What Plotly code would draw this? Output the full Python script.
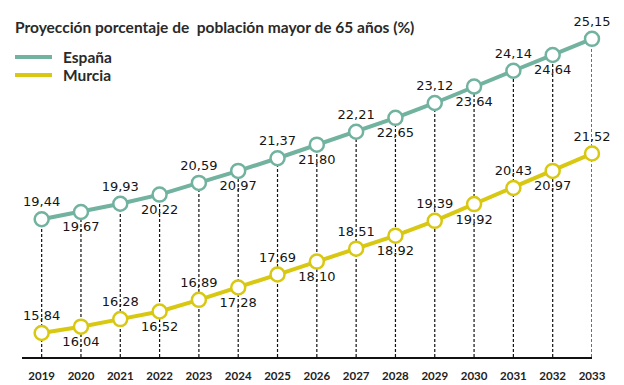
import plotly.graph_objects as go

years = list(range(2019, 2034))
espana = [19.44, 19.67, 19.93, 20.22, 20.59, 20.97, 21.37, 21.80, 22.21, 22.65, 23.12, 23.64, 24.14, 24.64, 25.15]
murcia = [15.84, 16.04, 16.28, 16.52, 16.89, 17.28, 17.69, 18.10, 18.51, 18.92, 19.39, 19.92, 20.43, 20.97, 21.52]
tick_labels = [str(y) for y in years]
series_names = ["España", "Murcia"]

C_ESP = "#72b3a0"
C_MUR = "#d8c812"
Y_MIN, Y_MAX = 15.08, 25.43

def fmt(v):
    return f"{v:.2f}".replace(".", ",")

def positions(n):
    return ["top center" if i % 2 == 0 else "bottom center" for i in range(n)]

fig = go.Figure()

# dashed drop lines from España points to the axis
dx, dy = [], []
for x, v in zip(years, espana):
    dx += [x, x, None]
    dy += [Y_MIN, v, None]
fig.add_trace(go.Scatter(x=dx, y=dy, mode="lines", showlegend=False, hoverinfo="skip",
                         line=dict(color="#111", width=1.2, dash="3px,2px")))

for vals, col in [(espana, C_ESP), (murcia, C_MUR)]:
    fig.add_trace(go.Scatter(
        x=years, y=vals, mode="lines+markers+text", showlegend=False,
        text=[fmt(v) for v in vals], textposition=positions(len(vals)),
        textfont=dict(family="DejaVu Sans, sans-serif", size=13, color="#151515"),
        line=dict(color=col, width=4),
        marker=dict(size=14, color="white", line=dict(color=col, width=2.5)),
        cliponaxis=False))

# manual legend
leg_y = [0.9174, 0.8624]
for name, col, yy in zip(series_names, [C_ESP, C_MUR], leg_y):
    fig.add_shape(type="line", xref="paper", yref="paper", x0=-0.0123, x1=0.0526, y0=yy, y1=yy,
                  line=dict(color=col, width=4))
    fig.add_annotation(xref="paper", yref="paper", x=0.0680, y=yy, xanchor="left", yanchor="middle",
                       text="<b>" + name + "</b>", showarrow=False,
                       font=dict(family="Lato, sans-serif", size=15.5, color="#2a2a2a"))

fig.update_layout(
    width=624, height=385, showlegend=False,
    margin=dict(l=14, r=40, t=22, b=36, autoexpand=False),
    paper_bgcolor="white", plot_bgcolor="white",
    title=dict(text="<b>Proyección porcentaje de&nbsp; población mayor de 65 años (%)</b>",
               x=7/624, xref="container", xanchor="left",
               y=1-20/385, yref="container", yanchor="middle",
               font=dict(family="Lato, sans-serif", size=15.5, color="#2a2a2a")),
    xaxis=dict(range=[2018.5, 2033], tickvals=years, ticktext=["<b>" + t + "</b>" for t in tick_labels],
               showgrid=False, zeroline=False, showline=True, linecolor="#111", linewidth=1.5,
               ticks="outside", ticklen=7, tickcolor="rgba(0,0,0,0)",
               tickfont=dict(family="Lato, sans-serif", size=11.5, color="#222")),
    yaxis=dict(range=[Y_MIN, Y_MAX], visible=False, showgrid=False),
)

fig.write_html("out.html")
